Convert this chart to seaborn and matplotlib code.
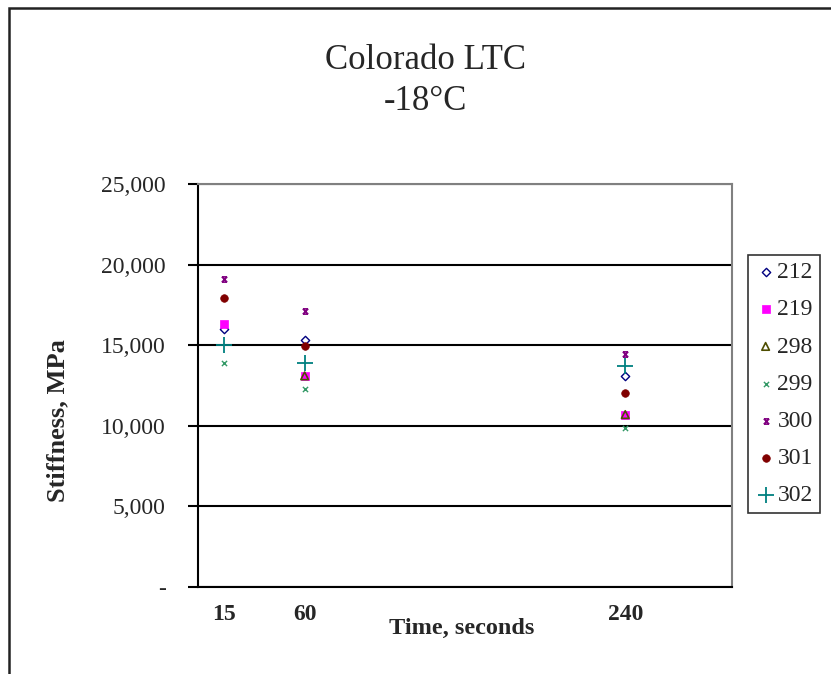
"""
Colorado LTC stiffness at -18 C, by mix id (Excel-style scatter).
"""
import numpy as np
import pandas as pd
import matplotlib
matplotlib.use("Agg")
import matplotlib.pyplot as plt
from matplotlib.path import Path
from matplotlib.patches import Rectangle
from matplotlib.ticker import FuncFormatter
import seaborn as sns

TIMES = [15, 60, 240]
MIXES = ["212", "219", "298", "299", "300", "301", "302"]

S_212 = [16000, 15300, 13100]
S_219 = [16300, 13100, 10700]
S_298 = [np.nan, 13100, 10700]   # 15 s point not visible (hidden)
S_299 = [13900, 12300, 9850]
S_300 = [19100, 17100, 14450]
S_301 = [17900, 14950, 12050]
S_302 = [15000, 13900, 13700]

Y_TICKS = [0, 5000, 10000, 15000, 20000, 25000]

# excel "star" marker: x with bars top and bottom
STAR = Path(
    [(-1, 1), (1, 1), (-1, -1), (1, -1), (-1, 1), (1, -1), (1, 1), (-1, -1)],
    [Path.MOVETO, Path.LINETO] * 4,
)

STYLES = {
    "212": dict(marker="D", s=18, facecolor="white", edgecolor="#000080", linewidth=1.0),
    "219": dict(marker="s", s=26, facecolor="#FF00FF", edgecolor="#FF00FF", linewidth=0.5),
    "298": dict(marker="^", s=30, facecolor="none", edgecolor="#4d4d00", linewidth=1.2),
    "299": dict(marker="x", s=14, color="#339966", linewidth=1.0),
    "300": dict(marker=STAR, s=14, facecolor="#800080", edgecolor="#800080", linewidth=1.2),
    "301": dict(marker="o", s=30, facecolor="#800000", edgecolor="#800000", linewidth=0.5),
    "302": dict(marker="+", s=120, color="#008080", linewidth=1.3),
}

series = [S_212, S_219, S_298, S_299, S_300, S_301, S_302]
df = pd.DataFrame(
    [(m, t, v) for m, vals in zip(MIXES, series) for t, v in zip(TIMES, vals)],
    columns=["mix", "time", "stiffness"],
)

sns.set_theme(style="white")
plt.rcParams["font.family"] = ["Liberation Serif", "DejaVu Serif"]

fig = plt.figure(figsize=(8.31, 6.74), dpi=100)
ax = fig.add_axes([0.238, 0.129, 0.643, 0.598])

for mix in MIXES:
    sub = df[df["mix"] == mix]
    sns.scatterplot(data=sub, x="time", y="stiffness", label=mix, ax=ax,
                    zorder=3, **STYLES[mix])

ax.set_xlim(0, 300)
ax.set_ylim(0, 25000)
ax.set_xticks(TIMES)
ax.set_xticklabels([str(t) for t in TIMES], fontweight="bold", fontsize=17)
ax.set_yticks(Y_TICKS)
ax.yaxis.set_major_formatter(FuncFormatter(lambda v, _: "-" if v == 0 else f"{int(v):,}"))
ax.tick_params(axis="y", labelsize=17, length=7, width=1.5, color="black",
               direction="out", left=True, pad=16)
ax.tick_params(axis="x", length=0, pad=12)
ax.grid(axis="y", color="black", linewidth=1.5)
ax.set_axisbelow(True)

for side in ["left", "bottom"]:
    ax.spines[side].set_color("black")
    ax.spines[side].set_linewidth(1.5)
for side in ["top", "right"]:
    ax.spines[side].set_color("#808080")
    ax.spines[side].set_linewidth(1.5)

ax.set_xlabel("Time, seconds", fontweight="bold", fontsize=17.5)
ax.set_ylabel("Stiffness, MPa", fontweight="bold", fontsize=19)
ax.xaxis.set_label_coords(0.494, -0.077)
ax.yaxis.set_label_coords(-0.24, 0.414)

fig.text(0.512, 0.88, "Colorado LTC\n-18°C", ha="center", va="center",
         fontsize=25, linespacing=1.3)

leg = ax.legend(loc="upper left", bbox_to_anchor=(0.9, 0.622),
                bbox_transform=fig.transFigure, frameon=True, fancybox=False,
                fontsize=17, handletextpad=0.05, handlelength=0.9,
                labelspacing=0.66, borderpad=0.3, scatterpoints=1, borderaxespad=0)
leg.get_frame().set_edgecolor("black")
leg.get_frame().set_linewidth(1.2)

# outer chart-area border (top and left edges visible in the crop)
fig.patches.append(Rectangle((9 / 831, -0.05), 1.1, 1 - 8 / 674 + 0.05,
                             transform=fig.transFigure, fill=False,
                             edgecolor="#222222", linewidth=1.8))

fig.savefig("out.png", dpi=100)
